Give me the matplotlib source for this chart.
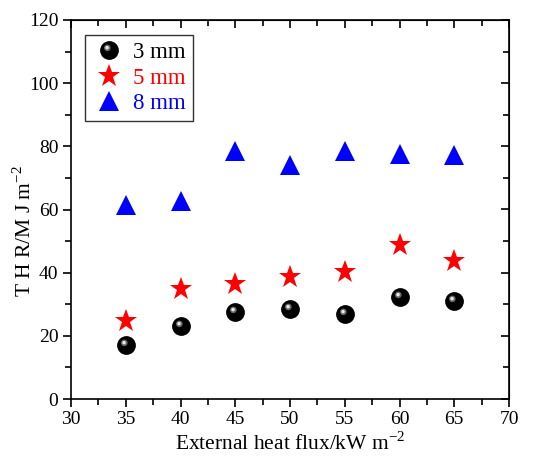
import numpy as np
import matplotlib
matplotlib.use("Agg")
import matplotlib.pyplot as plt
from matplotlib.path import Path
from matplotlib.markers import MarkerStyle
from matplotlib.legend_handler import HandlerTuple
from matplotlib.ticker import MultipleLocator

heat_flux = [35, 40, 45, 50, 55, 60, 65]
thr_3mm = [17.0, 23.2, 27.6, 28.6, 26.9, 32.3, 31.1]
thr_5mm = [24.8, 34.7, 36.3, 38.7, 40.3, 48.8, 43.8]
thr_8mm = [61.5, 62.6, 78.6, 74.1, 78.6, 77.5, 77.2]
labels = ["3 mm", "5 mm", "8 mm"]

plt.rcParams['font.family'] = ['Liberation Serif', 'DejaVu Serif']
plt.rcParams['mathtext.fontset'] = 'custom'
plt.rcParams['mathtext.rm'] = 'Liberation Serif'

def highlight_marker(cx, cy, r):
    c = Path.circle(center=(cx, cy), radius=r)
    verts = np.vstack([[[1.0, 0.0]], c.vertices])
    codes = np.concatenate([[Path.MOVETO], c.codes])
    return MarkerStyle(Path(verts, codes))

hl1 = highlight_marker(-0.25, 0.3, 0.38)
hl2 = highlight_marker(-0.28, 0.33, 0.2)

fig = plt.figure(figsize=(5.47, 4.59), dpi=100)
ax = fig.add_axes([71/547, 1-399/459, (509-71)/547, (399-20)/459])

ms = 12.5
l1 = ax.plot(heat_flux, thr_3mm, 'o', color='black', ms=ms, mec='black', zorder=3)[0]
h1 = ax.plot(heat_flux, thr_3mm, ls='none', marker=hl1, color='#6a6a6a', ms=ms, mew=0, zorder=4)[0]
h2 = ax.plot(heat_flux, thr_3mm, ls='none', marker=hl2, color='#e8e8e8', ms=ms, mew=0, zorder=5)[0]
l2 = ax.plot(heat_flux, thr_5mm, '*', color='red', ms=17, mew=0, zorder=3)[0]
l3 = ax.plot(heat_flux, thr_8mm, '^', color='blue', ms=15, mew=0, zorder=3)[0]

ax.set_xlim(30, 70)
ax.set_ylim(0, 120)
ax.xaxis.set_major_locator(MultipleLocator(5))
ax.xaxis.set_minor_locator(MultipleLocator(2.5))
ax.yaxis.set_major_locator(MultipleLocator(20))
ax.yaxis.set_minor_locator(MultipleLocator(10))
ax.tick_params(which='major', direction='out', length=6, width=1.2, labelsize=14, pad=3)
ax.tick_params(which='minor', direction='out', length=4, width=1.2)
for s in ax.spines.values():
    s.set_linewidth(1.2)

top = ax.secondary_xaxis('top')
top.xaxis.set_major_locator(MultipleLocator(5))
top.xaxis.set_minor_locator(MultipleLocator(2.5))
top.tick_params(which='major', direction='in', length=6, width=1.2, labeltop=False)
top.tick_params(which='minor', direction='in', length=4, width=1.2)
right = ax.secondary_yaxis('right')
right.yaxis.set_major_locator(MultipleLocator(20))
right.yaxis.set_minor_locator(MultipleLocator(10))
right.tick_params(which='major', direction='in', length=6, width=1.2, labelright=False)
right.tick_params(which='minor', direction='in', length=4, width=1.2)

ax.set_xlabel("External heat flux/kW m$^{-2}$", fontsize=15.5, labelpad=3)
ax.set_ylabel("T H R/M J m$^{-2}$", fontsize=15.5)
ax.yaxis.set_label_coords((36-71)/438, (399-231)/379)

leg = ax.legend([(l1, h1, h2), l2, l3], labels, handler_map={tuple: HandlerTuple(ndivide=1, pad=0)},
                loc='upper left', bbox_to_anchor=((85-71)/438, (399-35)/379), borderaxespad=0,
                fontsize=16.5, frameon=True, fancybox=False, edgecolor='black', handletextpad=0.3,
                handlelength=1.5, borderpad=0.3, labelspacing=0.2)
leg.get_frame().set_linewidth(1.0)
for t, c in zip(leg.get_texts(), ['black', 'red', 'blue']):
    t.set_color(c)

fig.savefig('out.png', dpi=100)
